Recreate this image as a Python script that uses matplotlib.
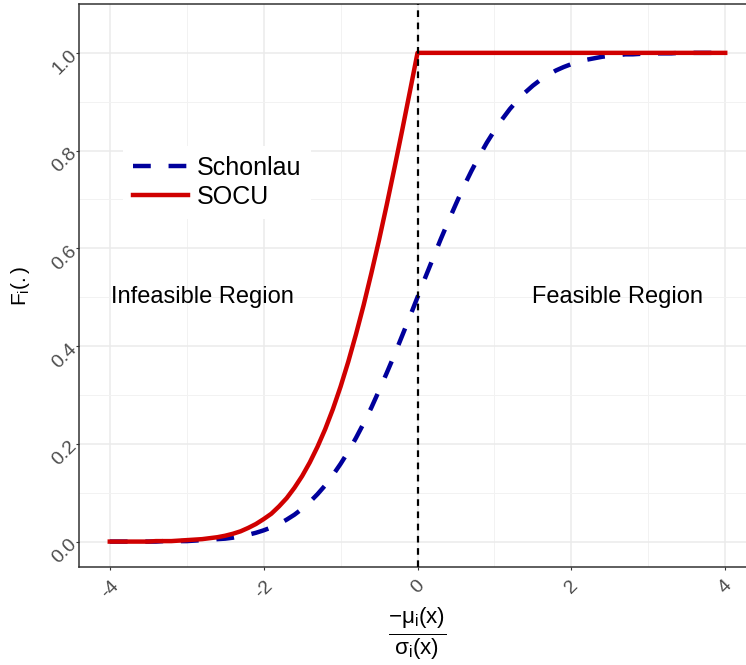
import matplotlib
matplotlib.use("Agg")
import matplotlib.pyplot as plt

plt.rcParams['font.family'] = ['Liberation Sans', 'DejaVu Sans']
plt.rcParams['mathtext.fontset'] = 'custom'
plt.rcParams['mathtext.rm'] = 'Liberation Sans'
plt.rcParams['mathtext.it'] = 'Liberation Sans'
plt.rcParams['axes.unicode_minus'] = False

# values
z = [-4.0, -3.9, -3.8, -3.7, -3.6, -3.5, -3.4, -3.3, -3.2, -3.1,
     -3.0, -2.9, -2.8, -2.7, -2.6, -2.5, -2.4, -2.3, -2.2, -2.1,
     -2.0, -1.9, -1.8, -1.7, -1.6, -1.5, -1.4, -1.3, -1.2, -1.1,
     -1.0, -0.9, -0.8, -0.7, -0.6, -0.5, -0.4, -0.3, -0.2, -0.1,
     0.0, 0.1, 0.2, 0.3, 0.4, 0.5, 0.6, 0.7, 0.8, 0.9,
     1.0, 1.1, 1.2, 1.3, 1.4, 1.5, 1.6, 1.7, 1.8, 1.9,
     2.0, 2.1, 2.2, 2.3, 2.4, 2.5, 2.6, 2.7, 2.8, 2.9,
     3.0, 3.1, 3.2, 3.3, 3.4, 3.5, 3.6, 3.7, 3.8, 3.9, 4.0]
schonlau = [0.000, 0.000, 0.000, 0.000, 0.000, 0.000, 0.000, 0.001, 0.001, 0.001,
            0.001, 0.002, 0.003, 0.003, 0.005, 0.006, 0.008, 0.011, 0.014, 0.018,
            0.023, 0.029, 0.036, 0.045, 0.055, 0.067, 0.081, 0.097, 0.115, 0.136,
            0.159, 0.184, 0.212, 0.242, 0.274, 0.309, 0.345, 0.382, 0.421, 0.460,
            0.500, 0.540, 0.579, 0.618, 0.655, 0.691, 0.726, 0.758, 0.788, 0.816,
            0.841, 0.864, 0.885, 0.903, 0.919, 0.933, 0.945, 0.955, 0.964, 0.971,
            0.977, 0.982, 0.986, 0.989, 0.992, 0.994, 0.995, 0.997, 0.997, 0.998,
            0.999, 0.999, 0.999, 0.999, 1.000, 1.000, 1.000, 1.000, 1.000, 1.000, 1.000]
socu = [0.000, 0.000, 0.000, 0.000, 0.000, 0.000, 0.001, 0.001, 0.001, 0.002,
        0.003, 0.004, 0.005, 0.007, 0.009, 0.012, 0.016, 0.021, 0.028, 0.036,
        0.046, 0.057, 0.072, 0.089, 0.110, 0.134, 0.162, 0.194, 0.230, 0.271,
        0.317, 0.368, 0.424, 0.484, 0.549, 0.617, 0.689, 0.764, 0.841, 0.920,
        1.000, 1.000, 1.000, 1.000, 1.000, 1.000, 1.000, 1.000, 1.000, 1.000,
        1.000, 1.000, 1.000, 1.000, 1.000, 1.000, 1.000, 1.000, 1.000, 1.000,
        1.000, 1.000, 1.000, 1.000, 1.000, 1.000, 1.000, 1.000, 1.000, 1.000,
        1.000, 1.000, 1.000, 1.000, 1.000, 1.000, 1.000, 1.000, 1.000, 1.000, 1.000]
x_ticks = [-4, -2, 0, 2, 4]
y_ticks = [0.0, 0.2, 0.4, 0.6, 0.8, 1.0]

fig = plt.figure(figsize=(7.46, 6.65), dpi=100)
ax = fig.add_axes([79 / 746, 98 / 665, 677 / 746, 563.5 / 665])

ax.plot(z, schonlau, color='#00009C', lw=3.2, linestyle=(0, (4, 4)),
        dash_capstyle='butt', label='Schonlau', zorder=3)
ax.plot(z, socu, color='#D00000', lw=3.2, label='SOCU', zorder=4)
ax.axvline(0, color='black', lw=1.6, linestyle=(0, (3, 2.5)), zorder=5)

ax.text(-2.8, 0.5, 'Infeasible Region', fontsize=17, ha='center', va='center')
ax.text(2.6, 0.5, 'Feasible Region', fontsize=17, ha='center', va='center')

ax.set_xlim(-4.4, 4.4)
ax.set_ylim(-0.052, 1.101)
ax.set_xticks(x_ticks)
ax.set_xticklabels([str(t) for t in x_ticks])
ax.set_yticks(y_ticks)
ax.set_yticklabels(['%.1f' % t for t in y_ticks])
ax.set_xticks([-3, -1, 1, 3], minor=True)
ax.set_yticks([0.1, 0.3, 0.5, 0.7, 0.9], minor=True)
ax.grid(which='major', color='#EBEBEB', lw=1.1)
ax.grid(which='minor', color='#F2F2F2', lw=0.7)
ax.set_axisbelow(True)
ax.tick_params(which='major', length=2.5, color='#333333', labelcolor='#4D4D4D',
               labelsize=14)
ax.tick_params(axis='x', pad=5)
ax.tick_params(axis='y', pad=1)
ax.tick_params(which='minor', length=0)
for lab in ax.get_xticklabels():
    lab.set_rotation(45)
    lab.set_ha('center')
    lab.set_va('top')
for lab in ax.get_yticklabels():
    lab.set_rotation(45)
    lab.set_ha('right')
    lab.set_va('center')
    lab.set_rotation_mode('anchor')
for s in ax.spines.values():
    s.set_color('#333333')
    s.set_linewidth(1.1)

ax.set_ylabel(r'$\mathrm{F_i(.)}$', fontsize=15, labelpad=12)
ax.set_xlabel(r'$\frac{-\mathrm{μ_i(x)}}{\mathrm{σ_i(x)}}$', fontsize=23, labelpad=3)

leg = ax.legend(loc='upper left', bbox_to_anchor=(0.046, 0.770), fontsize=18,
                frameon=True, fancybox=False, edgecolor='none', facecolor='white',
                framealpha=1, handlelength=2.2, handletextpad=0.35,
                labelspacing=0.2, borderpad=0.4)

fig.savefig('out.png', dpi=100)
